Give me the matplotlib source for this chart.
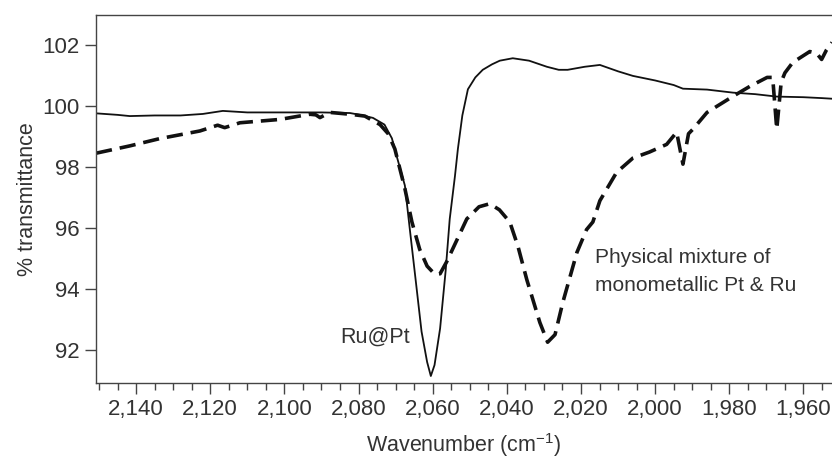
import matplotlib.pyplot as plt
from matplotlib.ticker import MultipleLocator, FuncFormatter

plt.rcParams['font.family'] = ['Liberation Sans', 'DejaVu Sans']

# Ru@Pt core-shell spectrum (solid)
rupt_x = [2150.8, 2145.0, 2141.7, 2135.0, 2128.0, 2122.0, 2116.6, 2110.0, 2100.0, 2090.0,
          2082.3, 2079.6, 2076.1, 2073.0, 2071.0, 2069.7, 2067.5, 2066.2, 2064.5, 2063.0,
          2061.5, 2060.5, 2059.5, 2058.0, 2056.5, 2055.4, 2054.0, 2053.2, 2052.0, 2050.5,
          2048.5, 2046.5, 2044.0, 2041.9, 2038.4, 2034.0, 2029.2, 2026.0, 2023.6, 2019.0,
          2014.9, 2010.0, 2006.0, 2000.0, 1995.0, 1992.5, 1986.0, 1979.0, 1973.0, 1967.2,
          1960.0, 1955.0, 1952.3]
rupt_y = [99.77, 99.72, 99.68, 99.70, 99.70, 99.75, 99.85, 99.80, 99.80, 99.80,
          99.78, 99.72, 99.62, 99.40, 98.95, 98.36, 97.40, 96.00, 94.20, 92.60,
          91.60, 91.14, 91.50, 92.70, 94.60, 96.30, 97.70, 98.60, 99.70, 100.56,
          100.95, 101.20, 101.38, 101.50, 101.58, 101.50, 101.30, 101.20, 101.20, 101.30,
          101.36, 101.15, 101.00, 100.85, 100.70, 100.58, 100.55, 100.45, 100.40, 100.32,
          100.30, 100.27, 100.25]

# physical mixture of monometallic Pt & Ru (dashed)
mix_x = [2150.8, 2141.7, 2133.6, 2122.8, 2118.0, 2116.1, 2114.0, 2112.0, 2101.2, 2093.1,
         2091.5, 2090.4, 2089.0, 2087.7, 2082.3, 2078.3, 2074.2, 2072.0, 2070.2, 2067.5,
         2065.6, 2063.5, 2061.5, 2059.4, 2058.0, 2056.2, 2053.5, 2050.8, 2047.5, 2044.6,
         2042.0, 2039.2, 2037.0, 2034.6, 2031.1, 2029.0, 2027.0, 2024.9, 2021.1, 2018.5,
         2016.8, 2014.9, 2010.4, 2006.0, 2001.5, 1996.9, 1994.2, 1992.5, 1991.0, 1989.8,
         1986.0, 1979.0, 1974.4, 1969.8, 1968.3, 1967.2, 1966.0, 1965.0, 1962.9, 1958.3,
         1956.5, 1955.1, 1953.8, 1952.3]
mix_y = [98.46, 98.70, 98.94, 99.19, 99.38, 99.30, 99.38, 99.46, 99.57, 99.74,
         99.72, 99.63, 99.72, 99.80, 99.74, 99.68, 99.40, 99.10, 98.60, 97.30,
         96.20, 95.30, 94.75, 94.48, 94.50, 94.90, 95.60, 96.30, 96.70, 96.80,
         96.60, 96.20, 95.40, 94.30, 92.90, 92.25, 92.50, 93.56, 95.20, 95.95,
         96.20, 96.90, 97.83, 98.30, 98.50, 98.75, 99.15, 98.10, 99.10, 99.25,
         99.80, 100.33, 100.66, 100.95, 100.95, 99.25, 100.80, 101.10, 101.44, 101.80,
         101.75, 101.54, 101.85, 102.10]

yticks = [92, 94, 96, 98, 100, 102]

fig = plt.figure(figsize=(8.32, 4.58), dpi=100)
ax = fig.add_axes([0.1154, 0.1644, 0.8846, 0.8028])

ax.plot(rupt_x, rupt_y, color='#111111', lw=1.3)
ax.plot(mix_x, mix_y, color='#111111', lw=2.6, dashes=(4.5, 2.2))

ax.set_xlim(2150.8, 1952.3)
ax.set_ylim(90.92, 103.0)
ax.set_yticks(yticks)
ax.xaxis.set_major_locator(MultipleLocator(20))
ax.xaxis.set_minor_locator(MultipleLocator(5))
ax.xaxis.set_major_formatter(FuncFormatter(lambda v, p: f'{int(round(v)):,}'))

ax.spines['right'].set_visible(False)
for s in ['left', 'bottom', 'top']:
    ax.spines[s].set_color('#444444')
    ax.spines[s].set_linewidth(1.0)
ax.tick_params(axis='both', which='major', length=8, width=1.0, color='#444444',
               labelsize=16, labelcolor='#333333', pad=4)
ax.tick_params(axis='x', which='minor', length=5, width=1.0, color='#444444')

ax.set_ylabel('% transmittance', fontsize=15.5, color='#333333', labelpad=3)
ax.set_xlabel('Wavenumber (cm$^{\\mathregular{-1}}$)', fontsize=15.5, color='#333333', labelpad=8)

ax.text(2066.2, 92.4, 'Ru@Pt', fontsize=15.5, color='#333333', ha='right', va='center')
ax.text(2016.3, 94.56, 'Physical mixture of\nmonometallic Pt & Ru', fontsize=15,
        color='#333333', ha='left', va='center', linespacing=1.6)

fig.savefig('out.png', dpi=100)
